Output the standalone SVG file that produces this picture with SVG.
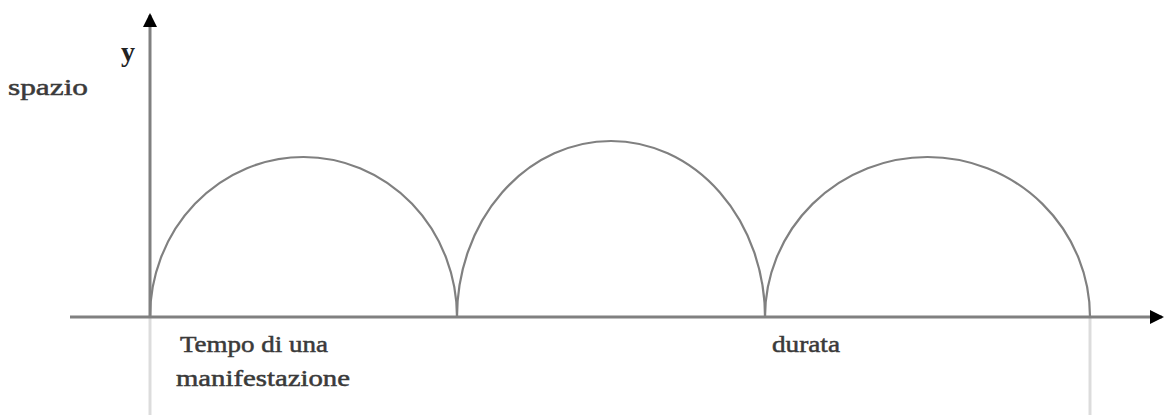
<svg xmlns="http://www.w3.org/2000/svg" width="1165" height="415" viewBox="0 0 1165 415">
<style>
.axis{stroke:#808080;stroke-width:3;fill:none}
.guide{stroke:#dcdcdc;stroke-width:3;fill:none}
.arch{stroke:#808080;stroke-width:2.2;fill:none}
.lbl{font-family:"Liberation Serif","Times New Roman",serif;font-size:23px;fill:#3a3a3a;stroke:#3a3a3a;stroke-width:0.5}
.ax{font-family:"Liberation Serif","Times New Roman",serif;font-size:28px;font-weight:bold;fill:#222}
</style>
<defs>
<marker id="ah" markerWidth="14" markerHeight="14" refX="12" refY="7" orient="auto" markerUnits="userSpaceOnUse">
<path d="M0,0 L14,7 L0,14 Z" fill="#000"/>
</marker>
</defs>
<g id="guides">
<line class="guide" x1="150" y1="318" x2="150" y2="415"/>
<line class="guide" x1="1090" y1="318" x2="1090" y2="415"/>
</g>
<g id="connectors">
<line class="axis" x1="70" y1="317" x2="1162" y2="317" marker-end="url(#ah)"/>
<line class="axis" x1="150" y1="317" x2="150" y2="15" marker-end="url(#ah)"/>
</g>
<g id="arches">
<path id="arch1" class="arch" d="M150,317 A153.5,160 0 0 1 457,317"/>
<path id="arch2" class="arch" d="M457,317 A154,176 0 0 1 765,317"/>
<path id="arch3" class="arch" d="M765,317 A162.5,160 0 0 1 1090,317"/>
</g>
<g id="labels">
<text class="ax" x="121" y="61">y</text>
<text class="lbl" x="8" y="95" textLength="80" lengthAdjust="spacingAndGlyphs">spazio</text>
<text class="lbl" x="180" y="352" textLength="148" lengthAdjust="spacingAndGlyphs">Tempo di una</text>
<text class="lbl" x="176" y="386" textLength="174" lengthAdjust="spacingAndGlyphs">manifestazione</text>
<text class="lbl" x="772" y="352" textLength="68" lengthAdjust="spacingAndGlyphs">durata</text>
</g>
</svg>
